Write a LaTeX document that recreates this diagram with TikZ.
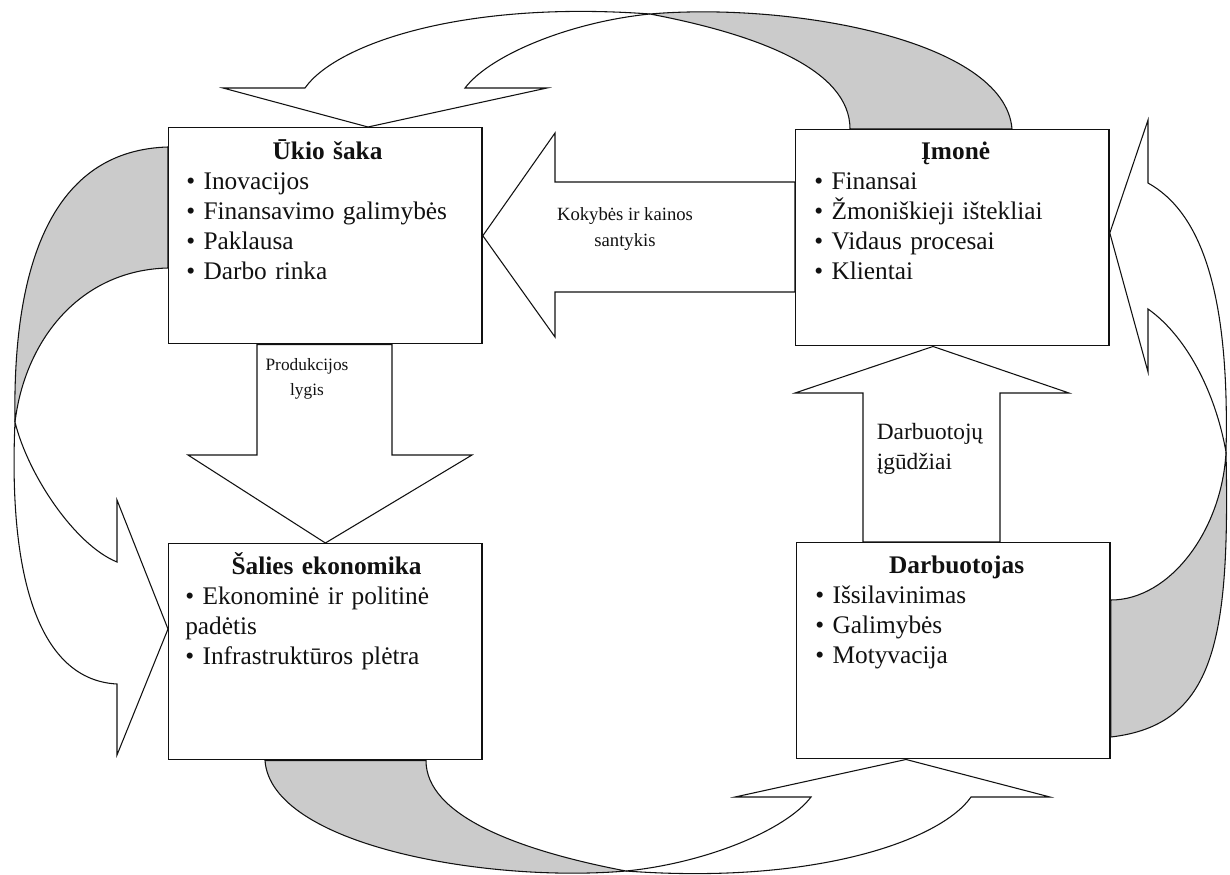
\documentclass[tikz,border=0pt]{standalone}
\usepackage{fontspec}
\setmainfont{Liberation Serif}
\usetikzlibrary{positioning,backgrounds}
\definecolor{loopInk}{HTML}{111111}
\definecolor{loopGray}{HTML}{CBCBCB}
\tikzset{
  every picture/.style={text=loopInk},
  loop box/.style={draw=loopInk, line width=1.1pt, fill=white, anchor=north west,
    minimum width=235pt, minimum height=162pt, inner sep=0pt},
  loop text/.style={anchor=north west, inner sep=0pt, text width=212pt,
    font=\fontsize{19}{22.5}\selectfont},
  loop white/.style={draw=loopInk, line width=0.8pt, fill=white},
  loop back/.style={draw=loopInk, line width=0.8pt, fill=loopGray},
  loop label/.style={align=center, inner sep=0pt, font=\fontsize{14}{20}\selectfont}
}

\begin{document}
\begin{tikzpicture}[x=0.75pt,y=-0.75pt]
  \useasboundingbox (0,0) rectangle (1230,874);

  % the four boxes
  \node[loop box] (uki) at (168,127) {};
  \node[loop box] (imone) at (795,129) {};
  \node[loop box] (salies) at (168,543) {};
  \node[loop box] (darb) at (796,542) {};

  \node[loop text] (ukiText) at ([shift={(18,9)}]uki.north west)
    {{\centering\bfseries\rule{0pt}{0.9em}Ūkio šaka\par}\raggedright
     • Inovacijos\\ • Finansavimo galimybės\\ • Paklausa\\ • Darbo rinka};
  \node[loop text] (imoneText) at ([shift={(19,7)}]imone.north west)
    {{\centering\bfseries\rule{0pt}{0.9em}Įmonė\par}\raggedright
     • Finansai\\ • Žmoniškieji ištekliai\\ • Vidaus procesai\\ • Klientai};
  \node[loop text] (saliesText) at ([shift={(17,8)}]salies.north west)
    {{\centering\bfseries\rule{0pt}{0.9em}Šalies ekonomika\par}\raggedright
     • Ekonominė ir politinė\\ padėtis\\ • Infrastruktūros plėtra};
  \node[loop text] (darbText) at ([shift={(19,8)}]darb.north west)
    {{\centering\bfseries\rule{0pt}{0.9em}Darbuotojas\par}\raggedright
     • Išsilavinimas\\ • Galimybės\\ • Motyvacija};

  \begin{pgfonlayer}{background}
    % straight block arrows
    \draw[loop white] (uki.east) -- (555,133) -- (555,182) -- (imone.west |- 0,182)
      -- (imone.west |- 0,292) -- (555,292) -- (555,337) -- cycle;
    \draw[loop white] (257,0 |- uki.south) -- (257,455) -- (188,455) -- (salies.north)
      -- (472,455) -- (392,455) -- (392,0 |- uki.south) -- cycle;
    \draw[loop white] (863,0 |- darb.north) -- (863,393) -- (795,393) -- (933,0 |- imone.south)
      -- (1069,393) -- (1000,393) -- (1000,0 |- darb.north) -- cycle;

    % top loop
    \draw[loop white] (305,88) .. controls (335,45) and (460,0) .. (650,14)
      .. controls (570,22) and (490,55) .. (465,88) -- (547,88) -- (368,0 |- uki.north)
      -- (223,88) -- cycle;
    \draw[loop back] (650,14) .. controls (760,35) and (850,70) .. (850,0 |- imone.north)
      -- (1012,0 |- imone.north) .. controls (1005,40) and (790,2) .. (650,14) -- cycle;
    % bottom loop
    \draw[loop white] (971,797) .. controls (941,840) and (816,885) .. (626,871)
      .. controls (706,863) and (786,830) .. (811,797) -- (735,797) -- (906,0 |- darb.south)
      -- (1050,797) -- cycle;
    \draw[loop back] (626,871) .. controls (516,850) and (426,815) .. (426,0 |- salies.south)
      -- (265,0 |- salies.south) .. controls (271,845) and (486,883) .. (626,871) -- cycle;
    % right loop
    \draw[loop white] (1148,183) .. controls (1200,212) and (1230,290) .. (1226,452)
      .. controls (1215,390) and (1185,335) .. (1148,309) -- (1148,372) -- (imone.east |- 0,233)
      -- (1148,120) -- cycle;
    \draw[loop back] (1226,452) .. controls (1230,640) and (1215,725) .. (darb.east |- 0,737)
      -- (darb.east |- 0,600) .. controls (1170,600) and (1222,530) .. (1226,452) -- cycle;
    % left loop
    \draw[loop back] (15,422) .. controls (12,250) and (60,150) .. (uki.west |- 0,147)
      -- (uki.west |- 0,268) .. controls (80,270) and (25,340) .. (15,422) -- cycle;
    \draw[loop white] (15,422) .. controls (8,580) and (40,680) .. (117,684) -- (117,755)
      -- (salies.west |- 0,629) -- (117,500) -- (117,562)
      .. controls (75,545) and (28,475) .. (15,422) -- cycle;
  \end{pgfonlayer}

  % arrow labels
  \node[loop label] (kokybe) at (625,229) {Kokybės ir kainos\\santykis};
  \node[loop label, font=\fontsize{13}{19}\selectfont] (produkcija) at (307,379) {Produkcijos\\lygis};
  \node[loop label, align=left, font=\fontsize{17.5}{22}\selectfont] (igudziai) at (930,449) {Darbuotojų\\įgūdžiai};
\end{tikzpicture}
\end{document}
